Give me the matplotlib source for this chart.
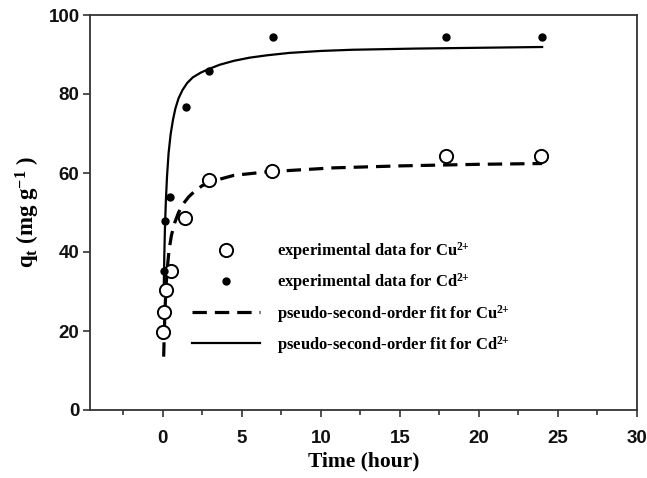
import matplotlib
matplotlib.use("Agg")
import matplotlib.pyplot as plt
from matplotlib.ticker import MultipleLocator

# ---- data ----
t_cu = [0.02, 0.08, 0.18, 0.5, 1.4, 2.9, 6.9, 17.9, 23.9]
q_cu = [19.8, 24.9, 30.3, 35.2, 48.7, 58.2, 60.4, 64.3, 64.3]

t_cd = [0.07, 0.12, 0.45, 1.45, 2.95, 6.95, 17.9, 24.0]
q_cd = [35.3, 47.9, 53.8, 76.6, 85.7, 94.4, 94.5, 94.5]

t_fit_cu = [0.06, 0.1, 0.15, 0.22, 0.3, 0.4, 0.55, 0.75, 1.0, 1.3, 1.65, 2.0, 2.5, 3.2, 4.5, 6.6, 10.8, 15, 20, 24]
q_fit_cu = [13.5, 19.6, 25.9, 31.9, 36.3, 40.5, 44.2, 47.3, 50.0, 52.2, 54.0, 55.3, 56.8, 58.0, 59.4, 60.3, 61.3, 61.8, 62.2, 62.4]

t_fit_cd = [0.07, 0.1, 0.14, 0.2, 0.27, 0.37, 0.5, 0.65, 0.8, 1.0, 1.25, 1.55, 1.9, 2.4, 2.9, 3.6, 4.5, 5.5, 6.6, 8, 10, 12, 16, 20, 24]
q_fit_cd = [32.0, 39.0, 46.0, 53.0, 59.0, 65.0, 69.8, 73.5, 76.3, 78.9, 81.0, 82.8, 84.2, 85.4, 86.3, 87.4, 88.4, 89.2, 89.8, 90.4, 90.9, 91.2, 91.5, 91.7, 91.9]

x_ticks = [0, 5, 10, 15, 20, 25, 30]
y_ticks = [0, 20, 40, 60, 80, 100]

sup = r"$^{\mathbf{2}\!\hspace{0.06}\mathbf{+}}$"
labels = ["experimental data for Cu" + sup,
          "experimental data for Cd" + sup,
          "pseudo-second-order fit for Cu" + sup,
          "pseudo-second-order fit for Cd" + sup]

plt.rcParams['mathtext.fontset'] = 'custom'
plt.rcParams['mathtext.rm'] = 'Liberation Serif:bold'
plt.rcParams['mathtext.bf'] = 'Liberation Serif:bold'
plt.rcParams['mathtext.it'] = 'Liberation Serif:bold'

fig = plt.figure(figsize=(6.47, 4.78), dpi=100)
ax = fig.add_axes([90/647, 68/478, 547/647, 395/478])

spine_c = '#333333'
h_cu, = ax.plot(t_cu, q_cu, linestyle='none', marker='o', markersize=9.5,
                markerfacecolor='white', markeredgecolor='black', markeredgewidth=1.4, zorder=4)
h_cd, = ax.plot(t_cd, q_cd, linestyle='none', marker='o', markersize=5,
                markerfacecolor='black', markeredgecolor='black', zorder=5)
h_fcu, = ax.plot(t_fit_cu, q_fit_cu, color='black', linewidth=2.3,
                 linestyle=(0, (4.5, 2.5)), zorder=3)
h_fcd, = ax.plot(t_fit_cd, q_fit_cd, color='black', linewidth=1.6, zorder=3)

ax.set_xlim(-4.6, 30)
ax.set_ylim(0, 100)
ax.set_xticks(x_ticks)
ax.set_yticks(y_ticks)
ax.xaxis.set_minor_locator(MultipleLocator(2.5))

for s in ax.spines.values():
    s.set_color(spine_c)
    s.set_linewidth(1.3)

ax.tick_params(axis='both', which='major', direction='out', length=5, width=1.2,
               color=spine_c, labelsize=13.5)
ax.tick_params(axis='x', which='major', pad=9.5)
ax.tick_params(axis='y', which='major', pad=2.5)
ax.tick_params(axis='x', which='minor', direction='out', length=3.5, width=1.2, color=spine_c)
ax.tick_params(top=False, right=False, which='both')
for lab in ax.get_xticklabels() + ax.get_yticklabels():
    lab.set_fontfamily('Liberation Sans')
    lab.set_fontweight('bold')
    lab.set_color('#111111')

ax.set_xlabel('Time (hour)', fontfamily='Liberation Serif', fontweight='bold',
              fontsize=15.5, labelpad=3)
ax.set_ylabel(r'q$_{\mathbf{t}}$ (mg g$^{\mathbf{-1}}$ )', fontfamily='Liberation Serif',
              fontweight='bold', fontsize=16.5, labelpad=5)

leg = ax.legend([h_cu, h_cd, h_fcu, h_fcd], labels, loc='center left',
                bbox_to_anchor=(0.1865, 0.2835), frameon=False, borderaxespad=0,
                borderpad=0, handlelength=4.1, handletextpad=1.0, labelspacing=0.55,
                prop={'family': 'Liberation Serif', 'weight': 'bold', 'size': 12})

fig.savefig('out.png', dpi=100)
